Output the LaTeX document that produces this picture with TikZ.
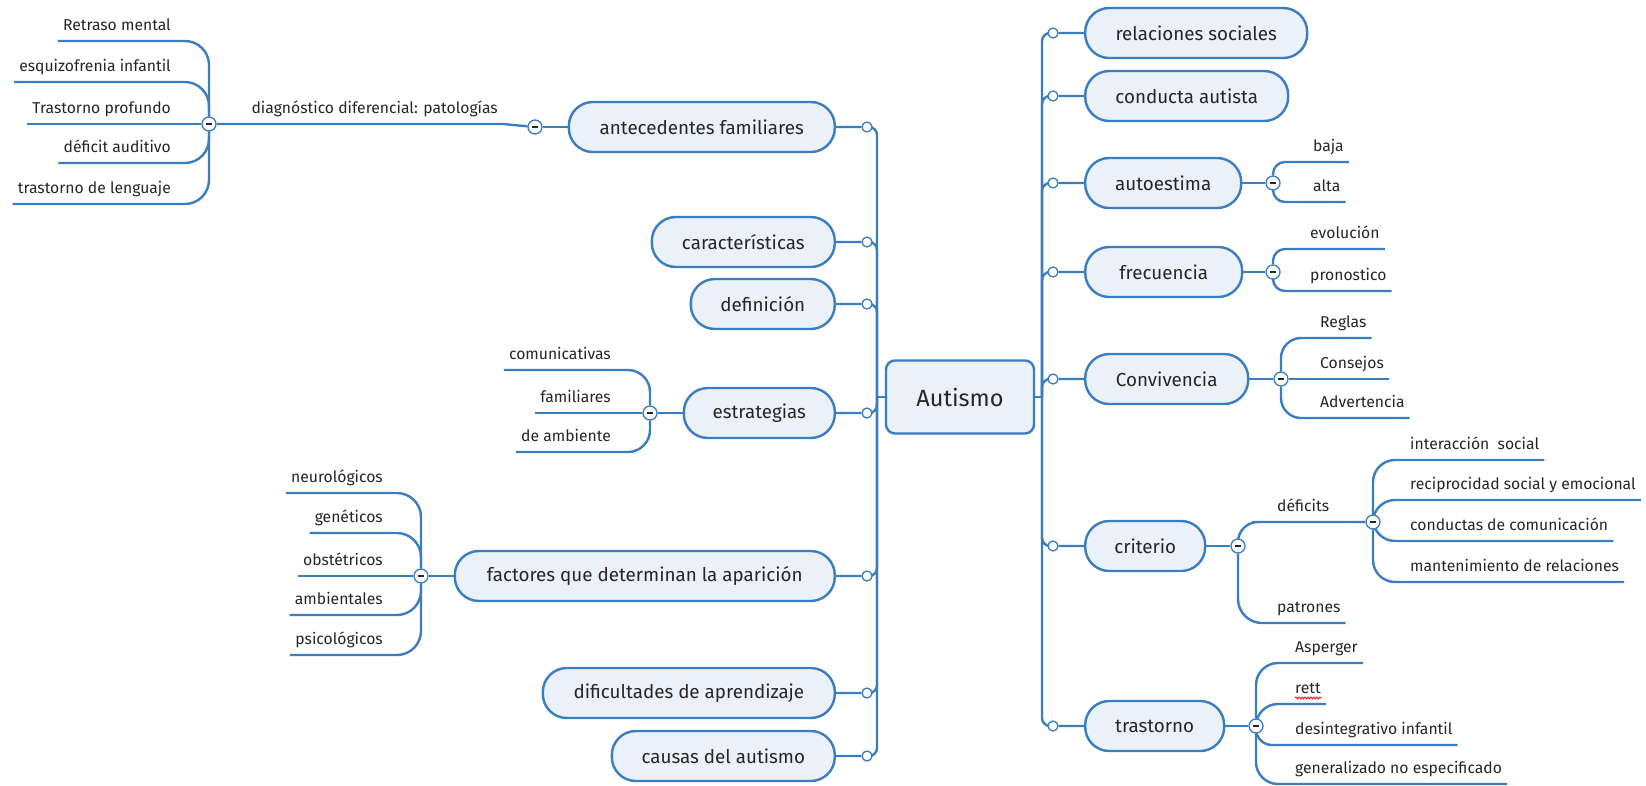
\documentclass[tikz,border=0pt]{standalone}
\usepackage{fontspec}
\setmainfont{Fira Sans}
\usetikzlibrary{decorations.pathmorphing,backgrounds}
\definecolor{lnblue}{HTML}{3A7DC0}
\definecolor{bxfill}{HTML}{EAF1F8}
\definecolor{txt}{HTML}{262626}
\begin{document}
\begin{tikzpicture}[x=1pt,y=-1pt,
 conn/.style={draw=lnblue,line width=2.4pt,rounded corners=#1},
 conn/.default=20pt,
 topic/.style={draw=lnblue,fill=bxfill,line width=2.4pt,rounded corners=24pt,minimum height=50pt,text=txt,font=\fontsize{18.8}{21}\selectfont,inner sep=0pt},
 leafR/.style={anchor=south west,inner xsep=5pt,inner ysep=10pt,text depth=0pt,text=txt,font=\fontsize{15.7}{18}\selectfont},
 leafL/.style={leafR,anchor=south east},
 hc/.style={circle,draw=lnblue,fill=white,line width=1.3pt,inner sep=0pt,minimum size=10pt},
 mc/.style={circle,draw=lnblue,fill=white,line width=1.3pt,inner sep=0pt,minimum size=14pt,
   path picture={\draw[txt,line width=1.3pt] ([xshift=-3pt]path picture bounding box.center) -- ([xshift=3pt]path picture bounding box.center);}}
]
\useasboundingbox (0,0) rectangle (1646,785);
% ---------- central ----------
\node[topic,rounded corners=9pt,minimum width=148pt,minimum height=73pt,font=\fontsize{23.5}{26}\selectfont] (aut) at (960,397) {Autismo};
\coordinate (tl) at (877,397);
\coordinate (tr) at (1042,397);
% ---------- left main topics ----------
\node[topic,anchor=east,minimum width=266pt] (ante) at (836,127) {antecedentes familiares};
\node[topic,anchor=east,minimum width=183pt] (carac) at (836,242) {características};
\node[topic,anchor=east,minimum width=144pt] (defi) at (836,304) {definición};
\node[topic,anchor=east,minimum width=151pt] (estr) at (836,413) {estrategias};
\node[topic,anchor=east,minimum width=380pt] (fact) at (836,576) {factores que determinan la aparición};
\node[topic,anchor=east,minimum width=292pt] (difi) at (836,693) {dificultades de aprendizaje};
\node[topic,anchor=east,minimum width=223pt] (caus) at (836,756) {causas del autismo};
\node[hc] (ca) at (867,127) {};
\node[hc] (cb) at (867,242) {};
\node[hc] (cc) at (867,304) {};
\node[hc] (cd) at (867,413) {};
\node[hc] (ce) at (867,576) {};
\node[hc] (cf) at (867,693) {};
\node[hc] (cg) at (867,756) {};
% ---------- right main topics ----------
\node[topic,anchor=west,minimum width=222pt] (rel) at (1084,33) {relaciones sociales};
\node[topic,anchor=west,minimum width=203pt] (cond) at (1084,96) {conducta autista};
\node[topic,anchor=west,minimum width=156pt] (auto) at (1084,183) {autoestima};
\node[topic,anchor=west,minimum width=157pt] (frec) at (1084,272) {frecuencia};
\node[topic,anchor=west,minimum width=163pt] (conv) at (1084,379) {Convivencia};
\node[topic,anchor=west,minimum width=120pt] (crit) at (1084,546) {criterio};
\node[topic,anchor=west,minimum width=139pt] (tras) at (1084,726) {trastorno};
\node[hc] (r1) at (1053,33) {};
\node[hc] (r2) at (1053,96) {};
\node[hc] (r3) at (1053,183) {};
\node[hc] (r4) at (1053,272) {};
\node[hc] (r5) at (1053,379) {};
\node[hc] (r6) at (1053,546) {};
\node[hc] (r7) at (1053,726) {};
% ---------- diagnostico subtree ----------
\node[mc] (m1) at (535,127) {};
\node[leafL] (diag) at (503,124) {diagnóstico diferencial: patologías};
\node[mc] (m0) at (209,124) {};
\node[leafL] (d1) at (176,41) {Retraso mental};
\node[leafL] (d2) at (176,82) {esquizofrenia infantil};
\node[leafL] (d3) at (176,124) {Trastorno profundo};
\node[leafL] (d4) at (176,163) {déficit auditivo};
\node[leafL] (d5) at (176,204) {trastorno de lenguaje};
% ---------- estrategias subtree ----------
\node[mc] (me) at (650,413) {};
\node[leafL] (e1) at (616,370) {comunicativas};
\node[leafL] (e2) at (616,413) {familiares};
\node[leafL] (e3) at (616,452) {de ambiente};
% ---------- factores subtree ----------
\node[mc] (mf) at (421,576) {};
\node[leafL] (f1) at (388,493) {neurológicos};
\node[leafL] (f2) at (388,533) {genéticos};
\node[leafL] (f3) at (388,576) {obstétricos};
\node[leafL] (f4) at (388,615) {ambientales};
\node[leafL] (f5) at (388,655) {psicológicos};
% ---------- autoestima ----------
\node[mc] (ma) at (1273,183) {};
\node[leafR] (a1) at (1308,162) {baja};
\node[leafR] (a2) at (1308,202) {alta};
% ---------- frecuencia ----------
\node[mc] (mq) at (1273,272) {};
\node[leafR] (q1) at (1305,249) {evolución};
\node[leafR] (q2) at (1305,291) {pronostico};
% ---------- convivencia ----------
\node[mc] (mv) at (1281,379) {};
\node[leafR] (v1) at (1315,338) {Reglas};
\node[leafR] (v2) at (1315,379) {Consejos};
\node[leafR] (v3) at (1315,418) {Advertencia};
% ---------- criterio ----------
\node[mc] (mcr) at (1238,546) {};
\node[leafR] (k1) at (1272,522) {déficits};
\node[leafR] (k2) at (1272,623) {patrones};
\node[mc] (mk) at (1373,522) {};
\node[leafR] (k11) at (1405,460) {interacción\ \ social};
\node[leafR] (k12) at (1405,500) {reciprocidad social y emocional};
\node[leafR] (k13) at (1405,541) {conductas de comunicación};
\node[leafR] (k14) at (1405,582) {mantenimiento de relaciones};
% ---------- trastorno ----------
\node[mc] (mt) at (1256,726) {};
\node[leafR] (t1) at (1290,663) {Asperger};
\node[leafR] (t2) at (1290,704) {rett};
\node[leafR] (t3) at (1290,745) {desintegrativo infantil};
\node[leafR] (t4) at (1290,784) {generalizado no especificado};
\draw[red,line width=0.8pt,decorate,decoration={snake,amplitude=1pt,segment length=3pt}]
  ([xshift=5pt,yshift=6pt]t2.south west) -- ([xshift=-4pt,yshift=6pt]t2.south east);
% ---------- connectors ----------
\begin{pgfonlayer}{background}
\fill[white] (0,0) rectangle (1646,785);
\draw[conn=0pt] (tl) -- (aut.west);
\draw[conn=0pt] (tr) -- (aut.east);
\draw[conn=8pt] (ante.east) -- (ca) -| (tl);
\draw[conn=8pt] (carac.east) -- (cb) -| (tl);
\draw[conn=8pt] (defi.east) -- (cc) -| (tl);
\draw[conn=8pt] (estr.east) -- (cd) -| (tl);
\draw[conn=8pt] (fact.east) -- (ce) -| (tl);
\draw[conn=8pt] (difi.east) -- (cf) -| (tl);
\draw[conn=8pt] (caus.east) -- (cg) -| (tl);
\draw[conn=8pt] (tr) |- (r1) -- (rel.west);
\draw[conn=8pt] (tr) |- (r2) -- (cond.west);
\draw[conn=8pt] (tr) |- (r3) -- (auto.west);
\draw[conn=8pt] (tr) |- (r4) -- (frec.west);
\draw[conn=8pt] (tr) |- (r5) -- (conv.west);
\draw[conn=8pt] (tr) |- (r6) -- (crit.west);
\draw[conn=8pt] (tr) |- (r7) -- (tras.west);
% diagnostico
\draw[conn] (ante.west) -- (m1);
\draw[conn=0pt] (m1) -- (diag.south east) -- (m0);
\draw[conn=24pt] (m0) |- (d1.south west);
\draw[conn=24pt] (m0) |- (d2.south west);
\draw[conn] (m0) -- (d3.south west);
\draw[conn=24pt] (m0) |- (d4.south west);
\draw[conn=24pt] (m0) |- (d5.south west);
% estrategias
\draw[conn] (estr.west) -- (me);
\draw[conn=22pt] (me) |- (e1.south west);
\draw[conn] (me) -- (e2.south west);
\draw[conn=22pt] (me) |- (e3.south west);
% factores
\draw[conn] (fact.west) -- (mf);
\draw[conn=24pt] (mf) |- (f1.south west);
\draw[conn=24pt] (mf) |- (f2.south west);
\draw[conn] (mf) -- (f3.south west);
\draw[conn=24pt] (mf) |- (f4.south west);
\draw[conn=24pt] (mf) |- (f5.south west);
% autoestima
\draw[conn] (auto.east) -- (ma);
\draw[conn=12pt] (ma) |- (a1.south east);
\draw[conn=12pt] (ma) |- (a2.south east);
% frecuencia
\draw[conn] (frec.east) -- (mq);
\draw[conn=12pt] (mq) |- (q1.south east);
\draw[conn=12pt] (mq) |- (q2.south east);
% convivencia
\draw[conn] (conv.east) -- (mv);
\draw[conn=20pt] (mv) |- (v1.south east);
\draw[conn] (mv) -- (v2.south east);
\draw[conn=20pt] (mv) |- (v3.south east);
% criterio
\draw[conn] (crit.east) -- (mcr);
\draw[conn=20pt] (mcr) |- (k1.south west) -- (mk);
\draw[conn=24pt] (mcr) |- (k2.south east);
\draw[conn=22pt] (mk) |- (k11.south east);
\draw[conn=22pt] (mk) |- (k12.south east);
\draw[conn=22pt] (mk) |- (k13.south east);
\draw[conn=22pt] (mk) |- (k14.south east);
% trastorno
\draw[conn] (tras.east) -- (mt);
\draw[conn=22pt] (mt) |- (t1.south east);
\draw[conn=22pt] (mt) |- (t2.south east);
\draw[conn=16pt] (mt) |- (t3.south east);
\draw[conn=22pt] (mt) |- (t4.south east);
\end{pgfonlayer}
\end{tikzpicture}
\end{document}
